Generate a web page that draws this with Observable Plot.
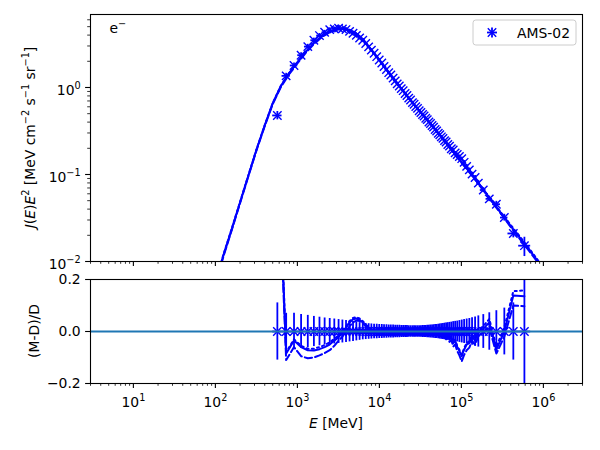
<!DOCTYPE html>
<html><head><meta charset="utf-8">
<script src="https://cdn.jsdelivr.net/npm/d3@7"></script>
<script src="https://cdn.jsdelivr.net/npm/@observablehq/plot@0.6"></script>
<style>
body{margin:0;background:#fff;}
#wrap{position:relative;width:600px;height:450px;font-family:"DejaVu Sans",sans-serif;color:#000;}
#wrap svg{position:absolute;left:0;overflow:visible;}
</style></head><body><div id="wrap"></div>
<script>
// ---------- data ----------
const energyGeV = [0.57,0.73,0.91,1.11,1.34,1.59,1.86,2.15,2.48,2.82,
  3.18,3.54,3.92,4.33,4.77,5.24,5.74,6.27,6.82,7.40,
  7.99,8.62,9.28,9.96,10.7,11.4,12.2,13.0,13.8,14.7,
  15.6,16.5,17.5,18.5,19.5,20.6,21.7,22.8,24.0,25.3,
  26.5,27.8,29.2,30.6,32.1,33.6,35.1,36.8,38.4,40.2,
  42.0,43.9,45.8,47.9,50.0,52.3,54.6,57.0,59.6,62.3,
  65.2,68.3,71.7,75.4,79.5,84.0,89.0,94.6,101,108,
  116,125,135,147,161,185,219,267,334,430,587];
const binEdgesGeV = [0.50,0.65,0.82,1.01,1.22,1.46,1.72,2.00,2.31,2.65,3.00,
  3.36,3.73,4.12,4.54,5.00,5.49,6.00,6.54,7.10,
  7.69,8.30,8.95,9.62,10.32,11.04,11.80,12.59,13.41,14.25,
  15.13,16.05,17.00,17.98,18.99,20.04,21.13,22.25,23.42,24.63,
  25.88,27.18,28.51,29.90,31.33,32.82,34.35,35.95,37.60,39.31,
  41.10,42.95,44.88,46.90,49.00,51.20,53.50,55.90,58.40,
  61.00,63.70,66.50,69.70,73.50,77.30,81.70,86.30,91.70,
  97.5,104,112,120,130,140,154,170,200,240,300,370,500,700];
const fluxData = [0.477,1.36,1.79,2.35,2.95,3.49,3.95,4.31,4.62,4.72,
  4.81,4.72,4.63,4.41,4.20,3.97,3.70,3.49,3.20,2.93,
  2.69,2.47,2.26,2.07,1.91,1.74,1.61,1.48,1.39,1.28,
  1.19,1.10,1.04,0.971,0.919,0.854,0.809,0.755,0.717,0.670,
  0.641,0.603,0.575,0.540,0.516,0.489,0.471,0.443,0.427,0.401,
  0.385,0.365,0.350,0.329,0.316,0.298,0.286,0.271,0.260,0.245,
  0.236,0.221,0.212,0.198,0.191,0.177,0.170,0.161,0.152,0.138,
  0.124,0.113,0.101,0.0923,0.0796,0.0663,0.0525,0.0455,0.0320,0.0210,0.0152];
const relErr = [0.110,0.070,0.070,0.065,0.062,0.058,0.055,0.052,0.050,0.048,
  0.046,0.044,0.042,0.040,0.038,0.036,0.034,0.032,0.031,0.030,
  0.029,0.028,0.028,0.027,0.027,0.026,0.026,0.025,0.025,0.025,
  0.024,0.024,0.024,0.023,0.023,0.023,0.023,0.022,0.022,0.022,
  0.022,0.022,0.022,0.022,0.022,0.023,0.023,0.023,0.024,0.024,
  0.025,0.025,0.026,0.027,0.027,0.028,0.029,0.030,0.031,0.032,
  0.033,0.034,0.035,0.036,0.038,0.039,0.040,0.042,0.044,0.046,
  0.048,0.050,0.053,0.056,0.060,0.065,0.072,0.080,0.090,0.110,0.250];
const resSolid = [0.80,-0.085,-0.035,-0.060,-0.072,-0.073,-0.068,-0.060,-0.050,-0.035,
  -0.022,-0.005,0.015,0.035,0.047,0.050,0.045,0.035,0.022,0.012,
  0.005,0.000,-0.005,0.003,-0.004,0.006,-0.002,0.004,-0.006,0.002,
  -0.003,0.005,-0.004,0.002,-0.006,0.004,-0.002,0.006,-0.004,0.002,
  -0.005,0.003,-0.003,0.006,-0.002,0.004,-0.006,0.002,-0.004,0.005,
  -0.003,0.001,-0.008,0.004,-0.010,0.000,-0.012,-0.004,-0.015,-0.006,
  -0.020,-0.012,-0.030,-0.020,-0.045,-0.035,-0.060,-0.075,-0.095,-0.070,
  -0.050,-0.045,-0.020,-0.035,0.000,0.010,0.035,-0.070,0.000,0.138,0.136];
const resDashed = [0.75,-0.110,-0.060,-0.095,-0.103,-0.100,-0.092,-0.083,-0.072,-0.055,
  -0.035,-0.020,0.000,0.020,0.035,0.042,0.040,0.032,0.020,0.010,
  0.004,-0.004,-0.009,-0.001,-0.008,0.002,-0.006,0.000,-0.010,-0.002,
  -0.007,0.001,-0.008,-0.002,-0.010,0.000,-0.006,0.002,-0.008,-0.002,
  -0.009,-0.001,-0.007,0.002,-0.006,0.000,-0.010,-0.002,-0.008,0.001,
  -0.008,-0.004,-0.014,-0.002,-0.017,-0.006,-0.020,-0.011,-0.024,-0.014,
  -0.030,-0.021,-0.040,-0.032,-0.058,-0.050,-0.075,-0.092,-0.115,-0.090,
  -0.072,-0.062,-0.035,-0.052,-0.018,-0.005,0.015,-0.085,-0.020,0.100,0.097];
const resDotted = [0.82,-0.080,-0.030,-0.055,-0.066,-0.066,-0.060,-0.052,-0.042,-0.028,
  -0.015,0.002,0.020,0.040,0.052,0.055,0.050,0.040,0.027,0.016,
  0.008,0.002,-0.003,0.005,-0.002,0.008,0.000,0.006,-0.004,0.004,
  -0.001,0.007,-0.002,0.004,-0.004,0.006,0.000,0.008,-0.002,0.004,
  -0.003,0.005,-0.001,0.008,0.000,0.006,-0.004,0.004,-0.002,0.007,
  -0.001,0.003,-0.006,0.006,-0.008,0.002,-0.010,-0.002,-0.013,-0.004,
  -0.018,-0.010,-0.027,-0.017,-0.042,-0.031,-0.056,-0.070,-0.090,-0.064,
  -0.044,-0.038,-0.012,-0.027,0.008,0.020,0.048,-0.058,0.015,0.155,0.158];
const modelEnergyMeV = [100,126,158,200,251,316,398,501,631,794,
  1000,1259,1585,1995,2512,3162,3981,5012,6310,7943,
  1e4,12589,15849,19953,25119,31623,39811,50119,63096,79433,
  1e5,125893,158489,199526,251189,316228,398107,501187,630957,794328,1e6,1258925];
const modelSolid = [0.0056,0.0120,0.0234,0.0479,0.0955,0.191,0.363,0.661,1.047,1.462,
  1.95,2.57,3.24,3.89,4.42,4.70,4.70,4.32,3.59,2.72,
  2.07,1.55,1.16,0.891,0.676,0.525,0.407,0.313,0.240,0.182,
  0.140,0.107,0.0813,0.0610,0.0457,0.0343,0.0257,0.0195,0.0148,0.0111,0.0083,0.0063];
const modelDashed = [0.0054,0.0116,0.0228,0.0468,0.0935,0.187,0.355,0.645,1.02,1.42,
  1.89,2.49,3.15,3.80,4.35,4.65,4.67,4.29,3.57,2.71,
  2.06,1.545,1.157,0.888,0.673,0.522,0.404,0.310,0.237,0.179,
  0.137,0.105,0.0800,0.0598,0.0448,0.0336,0.0250,0.0188,0.0142,0.0107,0.0080,0.0061];
const modelDotted = [0.0057,0.0122,0.0237,0.0484,0.0962,0.192,0.364,0.662,1.048,1.463,
  1.95,2.57,3.24,3.89,4.42,4.70,4.70,4.32,3.59,2.72,
  2.07,1.55,1.16,0.891,0.676,0.525,0.407,0.313,0.240,0.182,
  0.139,0.107,0.0815,0.0613,0.0462,0.0349,0.0264,0.0201,0.0152,0.0114,0.0085,0.0065];
const xMajorTicks = [1e1,1e2,1e3,1e4,1e5,1e6];
const yMajorTicksTop = [1e-2,1e-1,1e0];
const yTicksResidual = [-0.2,0,0.2];
const legendLabel = "AMS-02";
const panelLabel = "e";

// ---------- setup ----------
const FONT = "DejaVu Sans";
const FS = 13.9;
const BLUE = "#0000ff";
const xDomain = [3, 3e6];
const yDomainTop = [0.01, 6.9];

const points = energyGeV.map((e,i)=>({
  E: e*1000, lo: binEdgesGeV[i]*1000, hi: binEdgesGeV[i+1]*1000,
  J: fluxData[i], err: relErr[i], s: resSolid[i], d: resDashed[i], t: resDotted[i]
}));
const model = modelEnergyMeV.map((e,i)=>({E:e, s:modelSolid[i], d:modelDashed[i], t:modelDotted[i]}));

function minorTicks(lo, hi){
  const out=[];
  for(let k=Math.floor(Math.log10(lo)); k<=Math.ceil(Math.log10(hi)); k++)
    for(let m=2;m<=9;m++){const v=m*Math.pow(10,k); if(v>=lo&&v<=hi) out.push(v);}
  return out;
}
const xMinor = minorTicks(xDomain[0], xDomain[1]);
const yMinorTop = minorTicks(yDomainTop[0], yDomainTop[1]);
const supFmt = d => "10^" + Math.round(Math.log10(d));
const blank = () => "";
const resFmt = d => d === 0 ? "0.0" : (d < 0 ? "\u2212" : "") + Math.abs(d).toFixed(1);

function supify(svg){
  d3.select(svg).selectAll("text").each(function(){
    const m = /^10\^(-?\d+)$/.exec(this.textContent);
    if(!m) return;
    const sel = d3.select(this);
    sel.text(null);
    sel.append("tspan").text("10");
    sel.append("tspan").attr("dy", -6).attr("font-size", FS*0.7).text(m[1].replace("-", "\u2212"));
  });
}
const style = {fontFamily: FONT, fontSize: FS+"px", background: "transparent", color: "#000", overflow: "visible"};

// ---------- top panel ----------
const topPlot = Plot.plot({
  width: 600, height: 270,
  marginLeft: 90, marginRight: 18, marginTop: 14, marginBottom: 9,
  style,
  x: {type: "log", domain: xDomain},
  y: {type: "log", domain: yDomainTop},
  marks: [
    Plot.line(model, {x: "E", y: "s", stroke: BLUE, strokeWidth: 2, clip: true}),
    Plot.line(model, {x: "E", y: "d", stroke: BLUE, strokeWidth: 2, strokeDasharray: "7.4,3.2", clip: true}),
    Plot.line(model, {x: "E", y: "t", stroke: BLUE, strokeWidth: 2, strokeDasharray: "2,3.3", clip: true}),
    Plot.ruleX(points, {x: "E", y1: d => d.J*(1-d.err), y2: d => d.J*(1+d.err), stroke: BLUE, strokeWidth: 1.8, clip: true}),
    Plot.ruleY(points, {y: "J", x1: "lo", x2: "hi", stroke: BLUE, strokeWidth: 1.8, clip: true}),
    Plot.dot(points, {x: "E", y: "J", symbol: "times", r: 3.9, stroke: BLUE, strokeWidth: 1.4, clip: true}),
    Plot.frame({stroke: "#000", strokeWidth: 1.1}),
    Plot.axisX({ticks: xMajorTicks, tickSize: 4.9, tickFormat: blank, strokeWidth: 1.1, label: null}),
    Plot.axisX({ticks: xMinor, tickSize: 2.8, tickFormat: blank, strokeWidth: 0.8, label: null}),
    Plot.axisY({ticks: yMajorTicksTop, tickSize: 4.9, tickFormat: blank, strokeWidth: 1.1, label: null}),
    Plot.axisY({ticks: yMajorTicksTop, tickSize: 0, tickPadding: 9.8, tickFormat: supFmt, dy: 3.3, label: null}),
    Plot.axisY({ticks: yMinorTop, tickSize: 2.8, tickFormat: blank, strokeWidth: 0.8, label: null})
  ]
});
topPlot.style.top = "0px";
supify(topPlot);
{
  const s = d3.select(topPlot);
  // y label
  const t = s.append("text").attr("transform", "translate(35,137.5) rotate(-90)")
    .attr("text-anchor", "middle").attr("font-size", FS).attr("fill", "#000");
  t.append("tspan").attr("font-style", "italic").text("J");
  t.append("tspan").text("(");
  t.append("tspan").attr("font-style", "italic").text("E");
  t.append("tspan").text(")");
  t.append("tspan").attr("font-style", "italic").text("E");
  t.append("tspan").attr("dy", -6).attr("font-size", FS*0.7).text("2");
  t.append("tspan").attr("dy", 6).text(" [MeV cm");
  t.append("tspan").attr("dy", -6).attr("font-size", FS*0.7).text("\u22122");
  t.append("tspan").attr("dy", 6).text(" s");
  t.append("tspan").attr("dy", -6).attr("font-size", FS*0.7).text("\u22121");
  t.append("tspan").attr("dy", 6).text(" sr");
  t.append("tspan").attr("dy", -6).attr("font-size", FS*0.7).text("\u22121");
  t.append("tspan").attr("dy", 6).text("]");
  // panel label
  const e = s.append("text").attr("x", 109.5).attr("y", 33).attr("text-anchor", "start")
    .attr("font-size", FS).attr("fill", "#000");
  e.append("tspan").text(panelLabel);
  e.append("tspan").attr("dy", -6).attr("font-size", FS*0.7).text("\u2212");
  // legend
  const g = s.append("g");
  g.append("rect").attr("x", 473).attr("y", 20).attr("width", 103).attr("height", 25).attr("rx", 2.8)
    .attr("fill", "#fff").attr("fill-opacity", 0.8).attr("stroke", "#cccccc").attr("stroke-width", 1);
  const cx = 492, cy = 32.5;
  g.append("line").attr("x1", cx-5).attr("x2", cx+5).attr("y1", cy).attr("y2", cy).attr("stroke", BLUE).attr("stroke-width", 1.8);
  g.append("line").attr("x1", cx).attr("x2", cx).attr("y1", cy-5).attr("y2", cy+5).attr("stroke", BLUE).attr("stroke-width", 1.8);
  g.append("path").attr("d", `M${cx-4.2},${cy-4.2}L${cx+4.2},${cy+4.2}M${cx-4.2},${cy+4.2}L${cx+4.2},${cy-4.2}`)
    .attr("stroke", BLUE).attr("stroke-width", 1.4).attr("fill", "none");
  g.append("text").attr("x", 517).attr("y", 37.5).attr("text-anchor", "start")
    .attr("font-size", FS).attr("fill", "#000").text(legendLabel);
}

// ---------- residual panel ----------
const botPlot = Plot.plot({
  width: 600, height: 180,
  marginLeft: 90, marginRight: 18, marginTop: 9, marginBottom: 67,
  style,
  x: {type: "log", domain: xDomain},
  y: {domain: [-0.2, 0.2]},
  marks: [
    Plot.ruleX(points, {x: "E", y1: d => -d.err, y2: d => d.err, stroke: BLUE, strokeWidth: 1.8, clip: true}),
    Plot.ruleY(points, {y: () => 0, x1: "lo", x2: "hi", stroke: BLUE, strokeWidth: 1.8, clip: true}),
    Plot.dot(points, {x: "E", y: () => 0, symbol: "times", r: 3.9, stroke: BLUE, strokeWidth: 1.4, clip: true}),
    Plot.line(points, {x: "E", y: "s", stroke: BLUE, strokeWidth: 2, clip: true}),
    Plot.line(points, {x: "E", y: "d", stroke: BLUE, strokeWidth: 2, strokeDasharray: "7.4,3.2", clip: true}),
    Plot.line(points, {x: "E", y: "t", stroke: BLUE, strokeWidth: 2, strokeDasharray: "2,3.3", clip: true}),
    Plot.ruleY([0], {stroke: "#1f77b4", strokeWidth: 2.1}),
    Plot.frame({stroke: "#000", strokeWidth: 1.1}),
    Plot.axisX({ticks: xMajorTicks, tickSize: 4.9, tickFormat: blank, strokeWidth: 1.1, label: null}),
    Plot.axisX({ticks: xMajorTicks, tickSize: 0, tickPadding: 13.8, tickFormat: supFmt, label: null}),
    Plot.axisX({ticks: xMinor, tickSize: 2.8, tickFormat: blank, strokeWidth: 0.8, label: null}),
    Plot.axisY({ticks: yTicksResidual, tickSize: 4.9, tickPadding: 4.9, tickFormat: resFmt, strokeWidth: 1.1, label: null})
  ]
});
botPlot.style.top = "270px";
supify(botPlot);
{
  const s = d3.select(botPlot);
  const xl = s.append("text").attr("x", 336).attr("y", 158).attr("text-anchor", "middle").attr("font-size", FS).attr("fill", "#000");
  xl.append("tspan").attr("font-style", "italic").text("E");
  xl.append("tspan").text(" [MeV]");
  s.append("text").attr("transform", "translate(38.5,61) rotate(-90)").attr("text-anchor", "middle")
    .attr("font-size", FS).attr("fill", "#000").text("(M-D)/D");
}

const wrap = document.getElementById("wrap");
wrap.appendChild(topPlot);
wrap.appendChild(botPlot);
</script></body></html>
